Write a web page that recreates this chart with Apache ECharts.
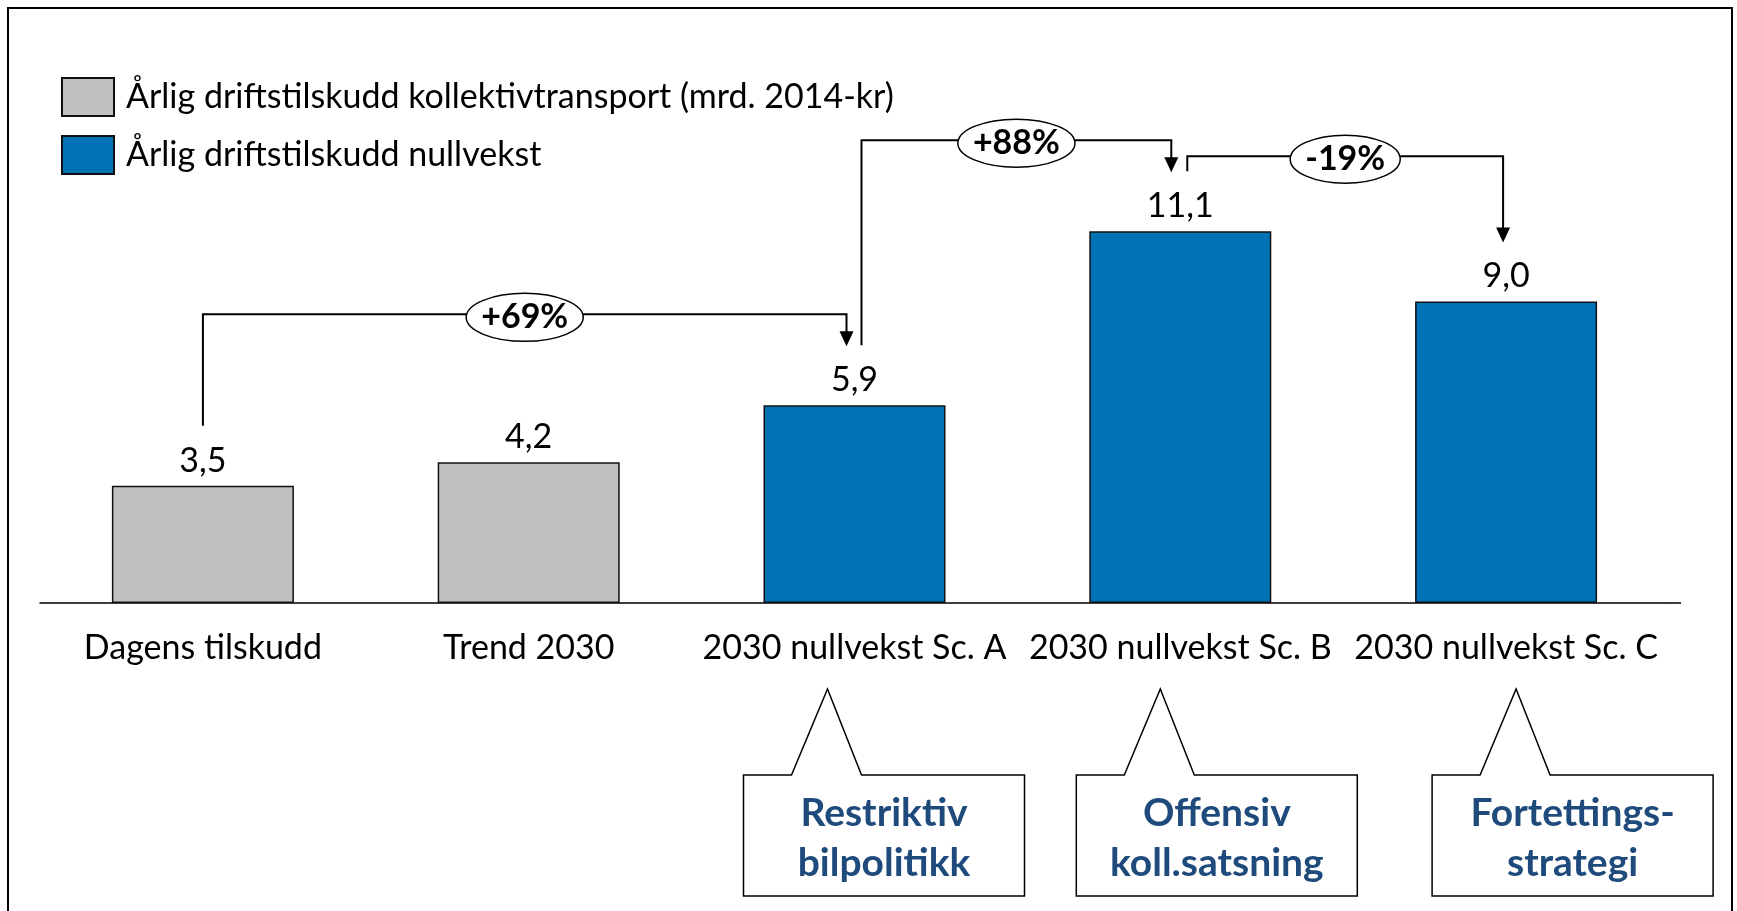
<!DOCTYPE html>
<html>
<head>
<meta charset="utf-8">
<script src="https://cdn.jsdelivr.net/npm/echarts@6/dist/echarts.min.js"></script>
<style>
  html, body { margin: 0; padding: 0; background: #fff; }
  #chart { width: 1737px; height: 911px; }
</style>
</head>
<body>
<div id="chart"></div>
<script>
const categories = ['Dagens tilskudd', 'Trend 2030', '2030 nullvekst Sc. A', '2030 nullvekst Sc. B', '2030 nullvekst Sc. C'];
const seriesNames = ['Årlig driftstilskudd kollektivtransport (mrd. 2014-kr)', 'Årlig driftstilskudd nullvekst'];
const trendValues = [3.5, 4.2, '-', '-', '-'];
const nullvekstValues = ['-', '-', 5.9, 11.1, 9.0];
const allValues = [3.5, 4.2, 5.9, 11.1, 9.0];

// change brackets: from bar, to bar, text
const changeFrom = [0, 2, 3];
const changeTo = [2, 3, 4];
const changeLabels = ['+69%', '+88%', '-19%'];

// callout boxes under the scenario bars
const calloutCats = [2, 3, 4];
const calloutLines = [['Restriktiv', 'bilpolitikk'], ['Offensiv', 'koll.satsning'], ['Fortettings-', 'strategi']];

const FONT = 'Lato, "Open Sans", sans-serif';
const GREY = '#C0C1C0';
const BLUE = '#0072B6';
const NAVY = '#1F4A7C';

const chart = echarts.init(document.getElementById('chart'));

const fmt = (p) => Number(p.value).toFixed(1).replace('.', ',');

chart.setOption({
  backgroundColor: '#fff',
  animation: false,
  grid: { left: 40, right: 68, top: 100.5, bottom: 308 },
  legend: {
    orient: 'vertical',
    left: 56,
    top: 72,
    itemWidth: 52,
    itemHeight: 38,
    itemGap: 18,
    icon: 'rect',
    textStyle: { fontSize: 34, lineHeight: 38, fontFamily: FONT, color: '#000', padding: [2, 0, 0, 7] },
    data: seriesNames,
  },
  xAxis: {
    type: 'category',
    data: categories,
    axisTick: { show: false },
    axisLine: { lineStyle: { color: '#000', width: 1.5 } },
    axisLabel: { interval: 0, fontSize: 34, fontFamily: FONT, color: '#000', margin: 28 },
  },
  yAxis: { type: 'value', min: 0, max: 15, show: false },
  series: [
    {
      name: seriesNames[0],
      type: 'bar',
      data: trendValues,
      barWidth: 182,
      barGap: '-100%',
      itemStyle: { color: GREY, borderColor: '#111', borderWidth: 1.5 },
      label: { show: true, position: 'top', distance: 8, formatter: fmt, fontSize: 34, fontFamily: FONT, color: '#000' },
    },
    {
      name: seriesNames[1],
      type: 'bar',
      data: nullvekstValues,
      barWidth: 182,
      barGap: '-100%',
      itemStyle: { color: BLUE, borderColor: '#111', borderWidth: 1.5 },
      label: { show: true, position: 'top', distance: 8, formatter: fmt, fontSize: 34, fontFamily: FONT, color: '#000' },
    },
  ],
});

// annotations drawn on top, placed from the chart's own scales
const ctx = document.createElement('canvas').getContext('2d');
const measure = (txt, font) => { ctx.font = font; return ctx.measureText(txt).width; };
const px = (i, v) => chart.convertToPixel({ gridIndex: 0 }, [i, v]);

const graphics = [];
// outer frame
graphics.push({
  type: 'rect', silent: true,
  shape: { x: 8, y: 8, width: 1724, height: 930 },
  style: { fill: null, stroke: '#000', lineWidth: 2 },
});
// axis line runs a little past the last category
const axisEnd = px(4, 0);
graphics.push({
  type: 'line', silent: true,
  shape: { x1: 1669, y1: axisEnd[1], x2: 1681, y2: axisEnd[1] },
  style: { stroke: '#000', lineWidth: 1.5 },
});

const riseAbove = [32, 32, 15];
const startShift = [0, 7, 7];
const endShift = [-8, -9, -3];
const pctFont = 'bold 34px ' + FONT;

changeFrom.forEach((from, k) => {
  const to = changeTo[k];
  const a = px(from, allValues[from]);
  const b = px(to, allValues[to]);
  const x1 = a[0] + startShift[k];
  const y1 = a[1] - 60;
  const x2 = b[0] + endShift[k];
  const tip = b[1] - 59;
  const level = Math.min(y1, tip) - riseAbove[k];
  graphics.push({
    type: 'polyline', silent: true,
    shape: { points: [[x1, y1], [x1, level], [x2, level], [x2, tip - 14]] },
    style: { stroke: '#000', lineWidth: 2, fill: null },
  });
  graphics.push({
    type: 'polygon', silent: true,
    shape: { points: [[x2 - 7, tip - 15], [x2 + 7, tip - 15], [x2, tip]] },
    style: { fill: '#000' },
  });
  const cx = (x1 + x2) / 2;
  const w = measure(changeLabels[k], pctFont);
  graphics.push({
    type: 'ellipse', silent: true,
    shape: { cx: cx, cy: level + 3, rx: w / 2 + 15, ry: 24 },
    style: { fill: '#fff', stroke: '#000', lineWidth: 1.5 },
  });
  graphics.push({
    type: 'text', silent: true,
    x: cx, y: level + 3,
    style: { text: changeLabels[k], font: pctFont, fill: '#000', align: 'center', verticalAlign: 'middle' },
  });
});

// callouts: box with a pointer up to the category label
const boxShift = [-111, -104, -74];
const boxW = 281, boxH = 121;
calloutCats.forEach((c, k) => {
  const base = px(c, 0);
  const left = base[0] + boxShift[k];
  const top = base[1] + 172;
  const apexY = base[1] + 86;
  graphics.push({
    type: 'polygon', silent: true,
    shape: {
      points: [
        [left, top], [left + 48, top], [left + 84, apexY], [left + 118, top],
        [left + boxW, top], [left + boxW, top + boxH], [left, top + boxH],
      ],
    },
    style: { fill: '#fff', stroke: '#000', lineWidth: 1.5 },
  });
  graphics.push({
    type: 'text', silent: true,
    x: left + boxW / 2, y: top + boxH / 2 + 3,
    style: {
      text: calloutLines[k].join('\n'),
      font: 'bold 39px ' + FONT,
      lineHeight: 50,
      fill: NAVY,
      align: 'center',
      verticalAlign: 'middle',
    },
  });
});

chart.setOption({ graphic: graphics });
</script>
</body>
</html>
